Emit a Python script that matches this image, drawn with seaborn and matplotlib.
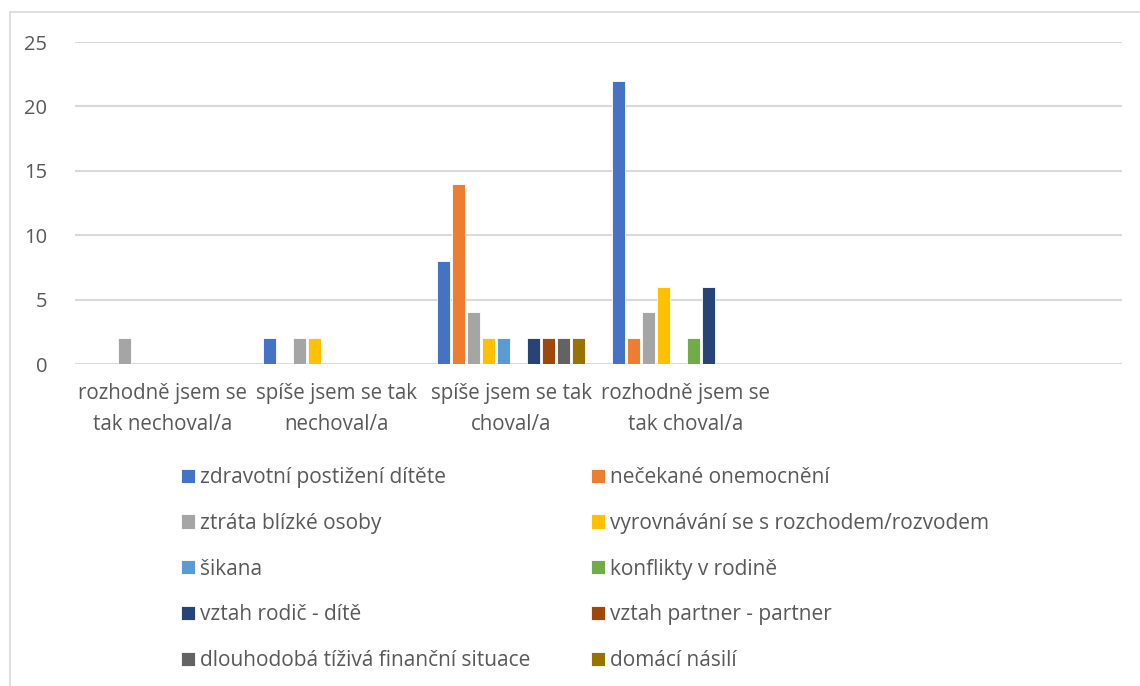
import matplotlib
matplotlib.use("Agg")
import matplotlib.pyplot as plt
from matplotlib.patches import Rectangle
import seaborn as sns
import pandas as pd

# Response categories (two trailing empty slots keep the axis width)
categories = [
    "rozhodně jsem se\ntak nechoval/a",
    "spíše jsem se tak\nnechoval/a",
    "spíše jsem se tak\nchoval/a",
    "rozhodně jsem se\ntak choval/a",
    "",
    " ",
]

series_names = [
    "zdravotní postižení dítěte",
    "nečekané onemocnění",
    "ztráta blízké osoby",
    "vyrovnávání se s rozchodem/rozvodem",
    "šikana",
    "konflikty v rodině",
    "vztah rodič - dítě",
    "vztah partner - partner",
    "dlouhodobá tíživá finanční situace",
    "domácí násilí",
]

# Counts per series across the four answered categories
zdravotni = [0, 2, 8, 22]
necekane = [0, 0, 14, 2]
ztrata = [2, 2, 4, 4]
vyrovnavani = [0, 2, 2, 6]
sikana = [0, 0, 2, 0]
konflikty = [0, 0, 0, 2]
rodic_dite = [0, 0, 2, 6]
partner = [0, 0, 2, 0]
financni = [0, 0, 2, 0]
nasili = [0, 0, 2, 0]

series_values = [zdravotni, necekane, ztrata, vyrovnavani, sikana,
                 konflikty, rodic_dite, partner, financni, nasili]

colors = ["#4472C4", "#ED7D31", "#A5A5A5", "#FFC000", "#5B9BD5",
          "#70AD47", "#264478", "#9E480E", "#636363", "#997300"]

rows = []
for name, vals in zip(series_names, series_values):
    for cat, v in zip(categories[:4], vals):
        rows.append({"kategorie": cat, "duvod": name, "pocet": v})
df = pd.DataFrame(rows)
df_plot = df[df["pocet"] > 0]

sns.set_theme(style="white")
plt.rcParams["font.family"] = ["Open Sans", "DejaVu Sans"]
text_color = "#595959"

fig = plt.figure(figsize=(11.4, 6.86), dpi=100)
ax = fig.add_axes([75 / 1140, 1 - 364 / 686, (1122 - 75) / 1140, (364 - 42) / 686])

sns.barplot(
    data=df_plot, x="kategorie", y="pocet", hue="duvod",
    order=categories, hue_order=series_names,
    palette=dict(zip(series_names, colors)), saturation=1,
    width=0.86, gap=0.12, edgecolor="white", linewidth=0.6,
    errorbar=None, ax=ax, legend=True, zorder=3,
)

ax.set_xlim(-0.5, len(categories) - 0.5)
ax.set_ylim(0, 25)
ax.set_yticks([0, 5, 10, 15, 20, 25])
ax.yaxis.grid(True, color="#D9D9D9", linewidth=1.5, zorder=0)
ax.set_axisbelow(True)
for s in ax.spines.values():
    s.set_visible(False)
ax.set_xlabel("")
ax.set_ylabel("")
ax.tick_params(axis="y", length=0, pad=20, labelsize=14.5, labelcolor=text_color)
ax.tick_params(axis="x", length=0, pad=14, labelsize=14.8, labelcolor=text_color)
for lbl in ax.get_xticklabels():
    lbl.set_linespacing(1.6)

# Legend in two columns, filled row by row
handles, labels = ax.get_legend_handles_labels()
ax.get_legend().remove()
order = list(range(0, 10, 2)) + list(range(1, 10, 2))
leg = fig.legend(
    [handles[i] for i in order], [labels[i] for i in order],
    ncol=2, loc="upper left", bbox_to_anchor=(181 / 1140, 1 - 467 / 686),
    frameon=False, fontsize=15, handlelength=0.67, handleheight=0.67,
    handletextpad=0.25, labelspacing=1.19, columnspacing=2.9,
    labelcolor=text_color, borderpad=0, borderaxespad=0,
)

# Chart frame
fig.patches.append(Rectangle((10 / 1140, -0.05), 1.2, 1 - 12 / 686 + 0.05,
                             transform=fig.transFigure, fill=False,
                             edgecolor="#D9D9D9", linewidth=1.2))

fig.savefig("out.png", dpi=100, facecolor="white")
